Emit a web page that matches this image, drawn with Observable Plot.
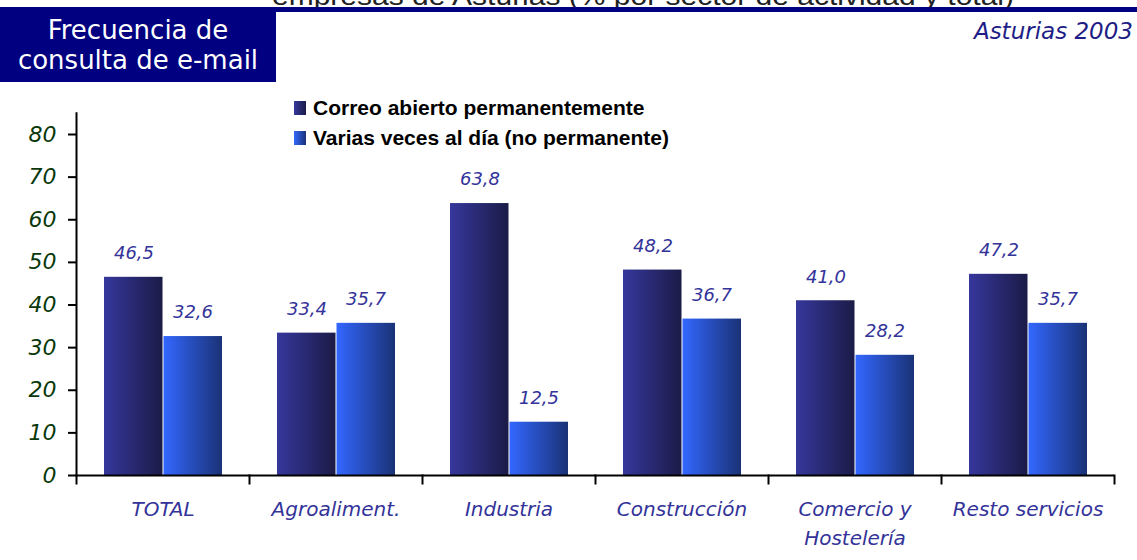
<!DOCTYPE html>
<html><head><meta charset="utf-8">
<script src="https://cdn.jsdelivr.net/npm/d3@7"></script>
<script src="https://cdn.jsdelivr.net/npm/@observablehq/plot@0.6"></script>
<style>
body{margin:0;background:#fff;}
#wrap{position:relative;width:1137px;height:560px;overflow:hidden;font-family:"DejaVu Sans",sans-serif;}
#header{position:relative;height:90px;}
#sub{position:absolute;left:272px;top:-16px;font:25px "Liberation Sans",Arial,sans-serif;color:#222;white-space:nowrap;line-height:25px;z-index:1;transform:scaleX(1.2);transform-origin:0 0;}
#band{position:absolute;left:0;top:7px;width:1137px;height:5px;background:#000080;z-index:10;}
#titlebox{position:absolute;left:0;top:7px;width:276px;height:67px;padding-top:8px;background:#000080;color:#fff;font-size:26px;text-align:center;line-height:30px;z-index:11;}
#place{position:absolute;right:4px;top:20px;font:italic 23px "DejaVu Sans";line-height:23px;color:#1e1e86;}
#legend{position:absolute;left:294px;top:93px;font:bold 21px "Liberation Sans",Arial,sans-serif;color:#000;z-index:2;}
.row{display:flex;align-items:center;height:30px;}
.sw{width:12px;height:14px;margin-right:7px;}
#chart{position:absolute;left:0;top:90px;}
</style></head>
<body>
<div id="wrap">
  <div id="header">
    <div id="sub">empresas de Asturias (% por sector de actividad y total)</div>
    <div id="band"></div>
    <div id="titlebox">Frecuencia de<br>consulta de e-mail</div>
    <div id="place">Asturias 2003</div>
  </div>
  <div id="legend"></div>
  <div id="chart"></div>
</div>
<script>
const categories = ["TOTAL", "Agroaliment.", "Industria", "Construcción", "Comercio y Hostelería", "Resto servicios"];
const categoryLabels = ["TOTAL", "Agroaliment.", "Industria", "Construcción", "Comercio y\nHostelería", "Resto servicios"];
const series = ["Correo abierto permanentemente", "Varias veces al día (no permanente)"];
const correoAbierto = [46.5, 33.4, 63.8, 48.2, 41.0, 47.2];
const variasVeces = [32.6, 35.7, 12.5, 36.7, 28.2, 35.7];
const yTicks = [0, 10, 20, 30, 40, 50, 60, 70, 80];

const data = [];
categories.forEach((c, i) => {
  data.push({cat: c, series: series[0], value: correoAbierto[i]});
  data.push({cat: c, series: series[1], value: variasVeces[i]});
});

const gradients = [
  {id: "gDark", from: "#36379c", to: "#1b1b47"},
  {id: "gLight", from: "#3367ff", to: "#1a3276"}
];

// legend
const legend = d3.select("#legend");
series.forEach((s, i) => {
  const row = legend.append("div").attr("class", "row");
  row.append("div").attr("class", "sw")
    .style("background", `linear-gradient(to right, ${gradients[i].from}, ${gradients[i].to})`);
  row.append("span").text(s);
});

const fmt = v => d3.format(".1f")(v).replace(".", ",");
const H = 470, mTop = 22.7, mBottom = 85;
const innerH = H - mTop - mBottom;

const chart = Plot.plot({
  width: 1137,
  height: H,
  marginTop: mTop,
  marginBottom: mBottom,
  marginLeft: 74,
  marginRight: 22,
  style: {fontFamily: "DejaVu Sans", background: "transparent"},
  fx: {domain: categories, padding: 0, label: null},
  x: {domain: series, paddingInner: 0, paddingOuter: 0.446, axis: null},
  y: {domain: [0, 85], label: null},
  marks: [
    Plot.barY(data.filter(d => d.series === series[0]), {fx: "cat", x: "series", y: "value", fill: "url(#gDark)", insetRight: 0.5}),
    Plot.barY(data.filter(d => d.series === series[1]), {fx: "cat", x: "series", y: "value", fill: "url(#gLight)", insetLeft: 0.5}),
    Plot.text(data, {fx: "cat", x: "series", y: "value", text: d => fmt(d.value), dy: -24, lineAnchor: "middle",
      fill: "#333399", fontSize: 18, fontStyle: "italic", fontWeight: "normal"}),
    Plot.ruleY([0], {stroke: "black", strokeWidth: 2}),
    Plot.frame({anchor: "left", facetAnchor: "left", stroke: "black", strokeWidth: 2}),
    Plot.frame({anchor: "left", insetTop: innerH, insetBottom: -8, stroke: "black", strokeWidth: 2}),
    Plot.frame({anchor: "right", facetAnchor: "right", insetTop: innerH, insetBottom: -8, stroke: "black", strokeWidth: 2}),
    Plot.axisY({ticks: yTicks, tickSize: 8, tickPadding: 12, strokeWidth: 2, stroke: "black", fill: "#0a380a",
      fontSize: 22, fontStyle: "italic", label: null}),
    Plot.axisFx({anchor: "bottom", tickSize: 0, tickPadding: 20, fontSize: 20, fontStyle: "italic", fill: "#333399",
      lineHeight: 1.45, label: null, tickFormat: d => categoryLabels[categories.indexOf(d)]})
  ]
});

const defs = d3.select(chart).insert("defs", ":first-child");
gradients.forEach(g => {
  const lg = defs.append("linearGradient").attr("id", g.id).attr("x1", 0).attr("x2", 1).attr("y1", 0).attr("y2", 0);
  lg.append("stop").attr("offset", "0%").attr("stop-color", g.from);
  lg.append("stop").attr("offset", "100%").attr("stop-color", g.to);
});

document.getElementById("chart").appendChild(chart);
</script>
</body></html>
